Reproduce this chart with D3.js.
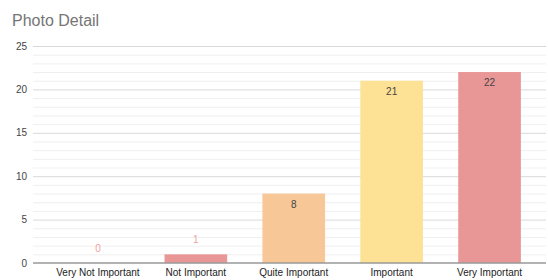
<!DOCTYPE html>
<html lang="en">
<head>
    <meta charset="UTF-8">
    <script type="text/javascript" src="https://cdn.jsdelivr.net/npm/d3@7/dist/d3.min.js"></script>
    <title>Photo Detail</title>
    <style>
        body { margin: 0; background: #fff; }
        text { font-family: "Liberation Sans", Arial, sans-serif; }
    </style>
</head>
<body>
</body>
<script>

    let categories = ["Very Not Important", "Not Important", "Quite Important", "Important", "Very Important"],
        values = [0, 1, 8, 21, 22],
        colors = ["#e89696", "#e89696", "#f7c797", "#fde296", "#e89696"],
        yTicks = [0, 5, 10, 15, 20, 25]

    let width = 548,
        height = 280,
        plotLeft = 33,
        plotRight = 546,
        plotTop = 46,
        plotBottom = 263

    let x = d3.scaleBand()
            .domain(categories)
            .range([49, 538.5])
            .paddingInner(0.36)
            .paddingOuter(0.18),
        y = d3.scaleLinear()
            .domain([0, 25])
            .range([plotBottom, plotTop])

    let svg = d3.select("body")
        .append("svg")
        .attr("width", width)
        .attr("height", height)

    svg.append("text")
        .attr("x", 12)
        .attr("y", 26)
        .attr("font-size", 16)
        .attr("fill", "#757575")
        .text("Photo Detail")

    // minor grid
    svg.append("g").selectAll("line")
        .data(d3.range(0, 26).filter(d => d % 5 !== 0))
        .enter()
        .append("line")
        .attr("x1", plotLeft).attr("x2", plotRight)
        .attr("y1", d => y(d) + 0.5).attr("y2", d => y(d) + 0.5)
        .attr("stroke", "#efefef")

    // major grid
    svg.append("g").selectAll("line")
        .data(yTicks.filter(d => d > 0))
        .enter()
        .append("line")
        .attr("x1", plotLeft).attr("x2", plotRight)
        .attr("y1", d => y(d) + 0.5).attr("y2", d => y(d) + 0.5)
        .attr("stroke", "#d9d9d9")

    svg.append("g").selectAll("text")
        .data(yTicks)
        .enter()
        .append("text")
        .attr("x", 27)
        .attr("y", d => y(d) + 3.5)
        .attr("text-anchor", "end")
        .attr("font-size", 10)
        .attr("fill", "#444")
        .text(d => d)

    svg.append("g").selectAll("rect")
        .data(values)
        .enter()
        .append("rect")
        .attr("x", (d, i) => x(categories[i]))
        .attr("y", d => y(d))
        .attr("width", x.bandwidth())
        .attr("height", d => y(0) - y(d))
        .attr("fill", (d, i) => colors[i])

    svg.append("line")
        .attr("x1", plotLeft).attr("x2", plotRight)
        .attr("y1", y(0)).attr("y2", y(0))
        .attr("stroke", "#999")
        .attr("stroke-width", 1.5)

    svg.append("g").selectAll("text")
        .data(values)
        .enter()
        .append("text")
        .attr("x", (d, i) => x(categories[i]) + x.bandwidth() / 2)
        .attr("y", d => d < 3 ? y(d) - 11 : y(d) + 14)
        .attr("text-anchor", "middle")
        .attr("font-size", 10)
        .attr("fill", d => d < 3 ? "#f0a0a0" : "#444")
        .text(d => d)

    svg.append("g").selectAll("text")
        .data(categories)
        .enter()
        .append("text")
        .attr("x", d => x(d) + x.bandwidth() / 2)
        .attr("y", 276)
        .attr("text-anchor", "middle")
        .attr("font-size", 10)
        .attr("fill", "#222")
        .text(d => d)

</script>
</html>
